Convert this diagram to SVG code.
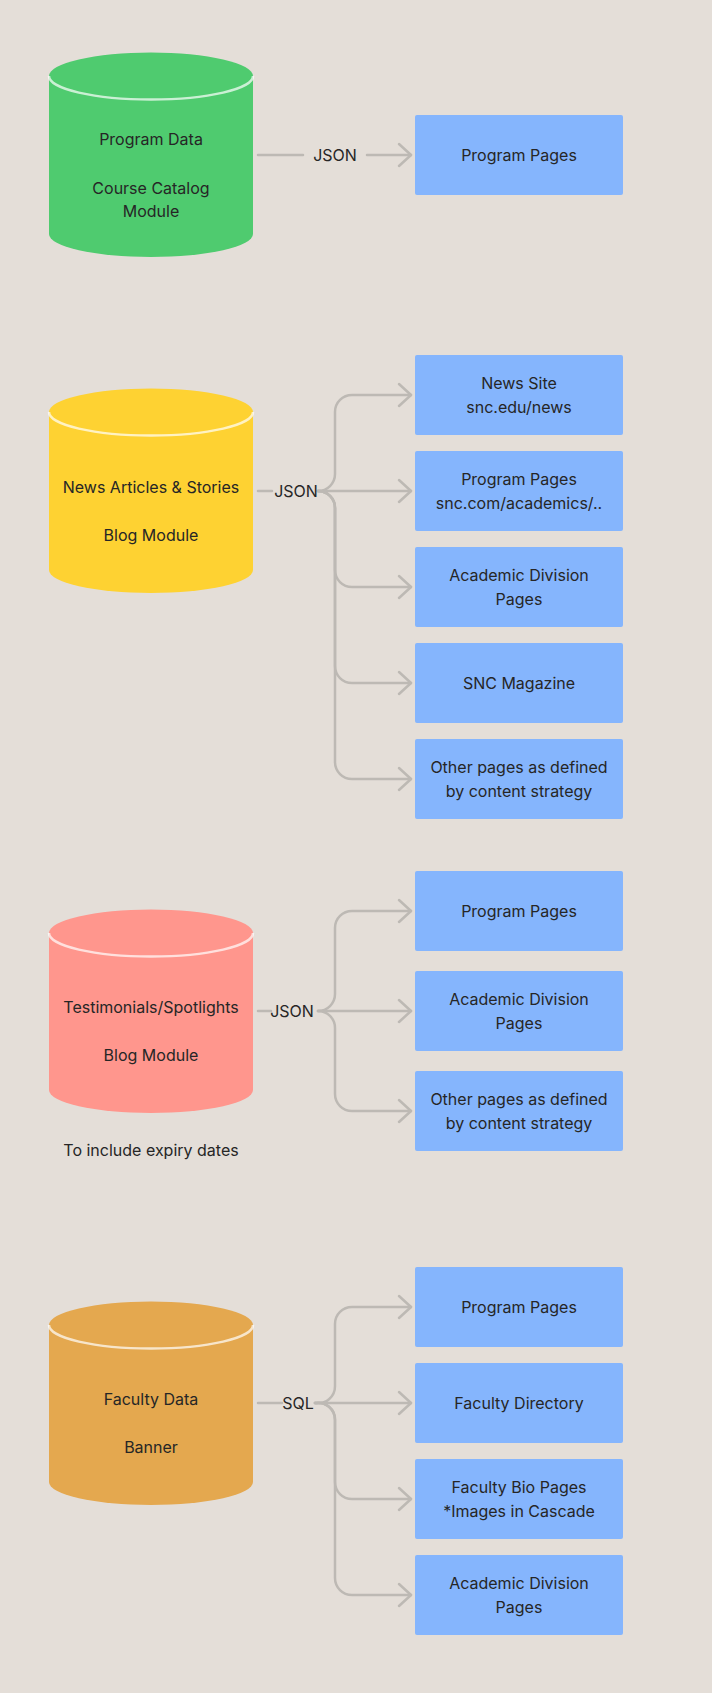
<svg xmlns="http://www.w3.org/2000/svg" width="712" height="1693" viewBox="0 0 712 1693">
<defs>
<style>
.bg{fill:#E4DED8}
.seam{fill:none;stroke:#FFFFFF;stroke-opacity:0.7;stroke-width:2.5}
.box{fill:#85B5FD}
.t{font-family:Inter,"Noto Sans","Liberation Sans",sans-serif;font-size:16px;fill:#262626;text-anchor:middle}
.c{fill:none;stroke:#BDB9B4;stroke-width:2.5;stroke-linecap:round;stroke-linejoin:round}
</style>
<marker id="arr" markerUnits="userSpaceOnUse" markerWidth="30" markerHeight="30" viewBox="-15 -15 30 30" refX="0" refY="0" orient="auto">
<path d="M-12,-11 L0,0 L-12,11" fill="none" stroke="#BDB9B4" stroke-width="2.5" stroke-linecap="round" stroke-linejoin="round"/>
</marker>
</defs>
<rect class="bg" x="0" y="0" width="712" height="1693"/>

<g id="connectors">
<line class="c" x1="258" y1="155" x2="303" y2="155"/>
<line class="c" x1="367" y1="155" x2="411" y2="155" marker-end="url(#arr)"/>

<line class="c" x1="258" y1="491" x2="272" y2="491"/>
<path class="c" d="M318,491 A17,17 0 0 0 335,474 L335,412 A17,17 0 0 1 352,395 L411,395" marker-end="url(#arr)"/>
<path class="c" d="M318,491 L411,491" marker-end="url(#arr)"/>
<path class="c" d="M318,491 A17,17 0 0 1 335,508 L335,570 A17,17 0 0 0 352,587 L411,587" marker-end="url(#arr)"/>
<path class="c" d="M318,491 A17,17 0 0 1 335,508 L335,666 A17,17 0 0 0 352,683 L411,683" marker-end="url(#arr)"/>
<path class="c" d="M318,491 A17,17 0 0 1 335,508 L335,762 A17,17 0 0 0 352,779 L411,779" marker-end="url(#arr)"/>

<line class="c" x1="258" y1="1011" x2="271" y2="1011"/>
<path class="c" d="M318,1011 A17,17 0 0 0 335,994 L335,928 A17,17 0 0 1 352,911 L411,911" marker-end="url(#arr)"/>
<path class="c" d="M318,1011 L411,1011" marker-end="url(#arr)"/>
<path class="c" d="M318,1011 A17,17 0 0 1 335,1028 L335,1094 A17,17 0 0 0 352,1111 L411,1111" marker-end="url(#arr)"/>

<line class="c" x1="258" y1="1403" x2="282" y2="1403"/>
<path class="c" d="M315,1403 A17,17 0 0 0 335,1386 L335,1324 A17,17 0 0 1 352,1307 L411,1307" marker-end="url(#arr)"/>
<path class="c" d="M315,1403 L411,1403" marker-end="url(#arr)"/>
<path class="c" d="M315,1403 A17,17 0 0 1 335,1420 L335,1482 A17,17 0 0 0 352,1499 L411,1499" marker-end="url(#arr)"/>
<path class="c" d="M315,1403 A17,17 0 0 1 335,1420 L335,1578 A17,17 0 0 0 352,1595 L411,1595" marker-end="url(#arr)"/>

<text class="t" x="335" y="161">JSON</text>
<text class="t" x="296" y="497">JSON</text>
<text class="t" x="292" y="1017">JSON</text>
<text class="t" x="298" y="1409">SQL</text>
</g>

<g id="db-program">
<path fill="#4FCB6F" d="M49,76 L49,234 A102,23 0 0 0 253,234 L253,76 A102,23.5 0 0 0 49,76 Z"/>
<path class="seam" d="M49,76 A102,23.5 0 0 0 253,76"/>
<text class="t" x="151" y="145">Program Data</text>
<text class="t" x="151" y="194">Course Catalog</text>
<text class="t" x="151" y="217">Module</text>
</g>

<g id="db-news">
<path fill="#FED232" d="M49,412 L49,570 A102,23 0 0 0 253,570 L253,412 A102,23.5 0 0 0 49,412 Z"/>
<path class="seam" d="M49,412 A102,23.5 0 0 0 253,412"/>
<text class="t" x="151" y="493">News Articles &amp; Stories</text>
<text class="t" x="151" y="541">Blog Module</text>
</g>

<g id="db-testimonials">
<path fill="#FF968D" d="M49,933 L49,1090 A102,23 0 0 0 253,1090 L253,933 A102,23.5 0 0 0 49,933 Z"/>
<path class="seam" d="M49,933 A102,23.5 0 0 0 253,933"/>
<text class="t" x="151" y="1013">Testimonials/Spotlights</text>
<text class="t" x="151" y="1061">Blog Module</text>
</g>
<g id="note-expiry">
<text class="t" x="151" y="1156">To include expiry dates</text>
</g>

<g id="db-faculty">
<path fill="#E4A84F" d="M49,1325 L49,1482 A102,23 0 0 0 253,1482 L253,1325 A102,23.5 0 0 0 49,1325 Z"/>
<path class="seam" d="M49,1325 A102,23.5 0 0 0 253,1325"/>
<text class="t" x="151" y="1405">Faculty Data</text>
<text class="t" x="151" y="1453">Banner</text>
</g>

<g id="p1-program-pages"><rect class="box" x="415" y="115" width="208" height="80" rx="2"/><text class="t" x="519" y="161">Program Pages</text></g>

<g id="p2-news-site"><rect class="box" x="415" y="355" width="208" height="80" rx="2"/><text class="t" x="519" y="389">News Site</text><text class="t" x="519" y="413">snc.edu/news</text></g>
<g id="p2-program-pages"><rect class="box" x="415" y="451" width="208" height="80" rx="2"/><text class="t" x="519" y="485">Program Pages</text><text class="t" x="519" y="509">snc.com/academics/..</text></g>
<g id="p2-academic"><rect class="box" x="415" y="547" width="208" height="80" rx="2"/><text class="t" x="519" y="581">Academic Division</text><text class="t" x="519" y="605">Pages</text></g>
<g id="p2-magazine"><rect class="box" x="415" y="643" width="208" height="80" rx="2"/><text class="t" x="519" y="689">SNC Magazine</text></g>
<g id="p2-other"><rect class="box" x="415" y="739" width="208" height="80" rx="2"/><text class="t" x="519" y="773">Other pages as defined</text><text class="t" x="519" y="797">by content strategy</text></g>

<g id="p3-program-pages"><rect class="box" x="415" y="871" width="208" height="80" rx="2"/><text class="t" x="519" y="917">Program Pages</text></g>
<g id="p3-academic"><rect class="box" x="415" y="971" width="208" height="80" rx="2"/><text class="t" x="519" y="1005">Academic Division</text><text class="t" x="519" y="1029">Pages</text></g>
<g id="p3-other"><rect class="box" x="415" y="1071" width="208" height="80" rx="2"/><text class="t" x="519" y="1105">Other pages as defined</text><text class="t" x="519" y="1129">by content strategy</text></g>

<g id="p4-program-pages"><rect class="box" x="415" y="1267" width="208" height="80" rx="2"/><text class="t" x="519" y="1313">Program Pages</text></g>
<g id="p4-faculty-directory"><rect class="box" x="415" y="1363" width="208" height="80" rx="2"/><text class="t" x="519" y="1409">Faculty Directory</text></g>
<g id="p4-faculty-bio"><rect class="box" x="415" y="1459" width="208" height="80" rx="2"/><text class="t" x="519" y="1493">Faculty Bio Pages</text><text class="t" x="519" y="1517">*Images in Cascade</text></g>
<g id="p4-academic"><rect class="box" x="415" y="1555" width="208" height="80" rx="2"/><text class="t" x="519" y="1589">Academic Division</text><text class="t" x="519" y="1613">Pages</text></g>
</svg>
